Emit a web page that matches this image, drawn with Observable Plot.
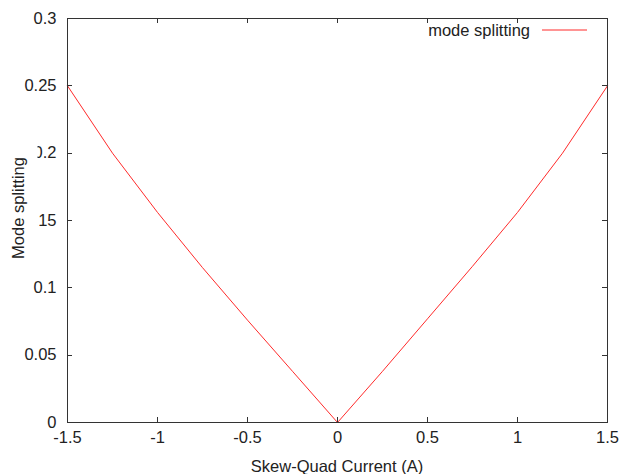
<!DOCTYPE html>
<html><head><meta charset="utf-8">
<script src="https://cdn.jsdelivr.net/npm/d3@7"></script>
<script src="https://cdn.jsdelivr.net/npm/@observablehq/plot@0.6"></script>
<style>html,body{margin:0;padding:0;background:#fff}svg{display:block}</style>
</head><body><div id="chart"></div>
<script>
const current = [-1.5, -1.25, -1, -0.75, -0.5, -0.25, 0, 0.25, 0.5, 0.75, 1, 1.25, 1.5];
const splitting = [0.25, 0.2, 0.156, 0.115, 0.076, 0.038, 0, 0.038, 0.077, 0.116, 0.156, 0.2, 0.25];
const xTicks = [-1.5, -1, -0.5, 0, 0.5, 1, 1.5];
const xTickLabels = ["-1.5", "-1", "-0.5", "0", "0.5", "1", "1.5"];
const yTicks = [0, 0.05, 0.1, 0.15, 0.2, 0.25, 0.3];
const yTickLabels = ["0", "0.05", "0.1", "0.15", "0.2", "0.25", "0.3"];
const seriesName = "mode splitting";
const xTitle = "Skew-Quad Current (A)";
const yTitle = "Mode splitting";

(function () {
const W = 622, H = 474, mL = 67, mR = 15, mT = 18, mB = 52;
const FONT = "'Liberation Sans', Arial, sans-serif";
const FS = 16.5;
const TXT = "#222";
const LINE = "#ff2a2a";
const data = current.map((x, i) => ({x, y: splitting[i]}));

const plot = Plot.plot({
  width: W, height: H,
  marginLeft: mL, marginRight: mR, marginTop: mT, marginBottom: mB,
  style: {fontFamily: FONT, fontSize: FS + "px", color: TXT, background: "#fff"},
  x: {domain: [-1.5, 1.5]},
  y: {domain: [0, 0.3]},
  marks: [
    Plot.axisX({ticks: xTicks, tickSize: 0, tickPadding: 9, label: null,
      tickFormat: d => xTickLabels[xTicks.indexOf(d)], fill: TXT}),
    Plot.axisY({ticks: yTicks, tickSize: 0, tickPadding: 11, label: null,
      tickFormat: d => yTickLabels[yTicks.indexOf(d)], fill: TXT}),
    Plot.line(data, {x: "x", y: "y", stroke: LINE, strokeWidth: 1}),
    Plot.frame({stroke: "#333", strokeWidth: 1})
  ]
});
document.getElementById("chart").appendChild(plot);

const svg = d3.select(plot);
const sx = plot.scale("x"), sy = plot.scale("y");
const pLeft = mL, pRight = W - mR, pTop = mT, pBottom = H - mB;
const TL = 5;
const g = svg.append("g").attr("stroke", "#333").attr("stroke-width", 1);
xTicks.forEach(v => {
  const px = Math.round(sx.apply(v)) + 0.5;
  g.append("line").attr("x1", px).attr("x2", px).attr("y1", pBottom).attr("y2", pBottom - TL);
  g.append("line").attr("x1", px).attr("x2", px).attr("y1", pTop).attr("y2", pTop + TL);
});
yTicks.forEach(v => {
  const py = Math.round(sy.apply(v)) + 0.5;
  g.append("line").attr("x1", pLeft).attr("x2", pLeft + TL).attr("y1", py).attr("y2", py);
  g.append("line").attr("x1", pRight).attr("x2", pRight - TL).attr("y1", py).attr("y2", py);
});

svg.append("text").attr("x", (pLeft + pRight) / 2).attr("y", H - 2)
  .attr("text-anchor", "middle").attr("fill", TXT)
  .style("font-family", FONT).style("font-size", FS + "px").text(xTitle);

const tx = 18;
const yg = svg.append("g").attr("transform", `translate(${tx},${(pTop + pBottom) / 2 - 12}) rotate(-90)`);
const rect = yg.append("rect").attr("fill", "#fff");
const yt = yg.append("text").attr("text-anchor", "middle").attr("dy", "0.35em").attr("fill", TXT)
  .style("font-family", FONT).style("font-size", FS + "px").text(yTitle);
const bb = yt.node().getBBox();
const boxRight = 37.5 - tx;
rect.attr("x", bb.x - 10).attr("y", bb.y - 14)
  .attr("width", bb.width + 26).attr("height", boxRight - (bb.y - 14));
yt.raise();

const ly = pTop + 12;
svg.append("text").attr("x", pRight - 77).attr("y", ly).attr("dy", "0.35em")
  .attr("text-anchor", "end").attr("fill", TXT)
  .style("font-family", FONT).style("font-size", FS + "px").text(seriesName);
svg.append("line").attr("x1", pRight - 65).attr("x2", pRight - 20).attr("y1", ly).attr("y2", ly)
  .attr("stroke", LINE).attr("stroke-width", 1);
})();
</script></body></html>
